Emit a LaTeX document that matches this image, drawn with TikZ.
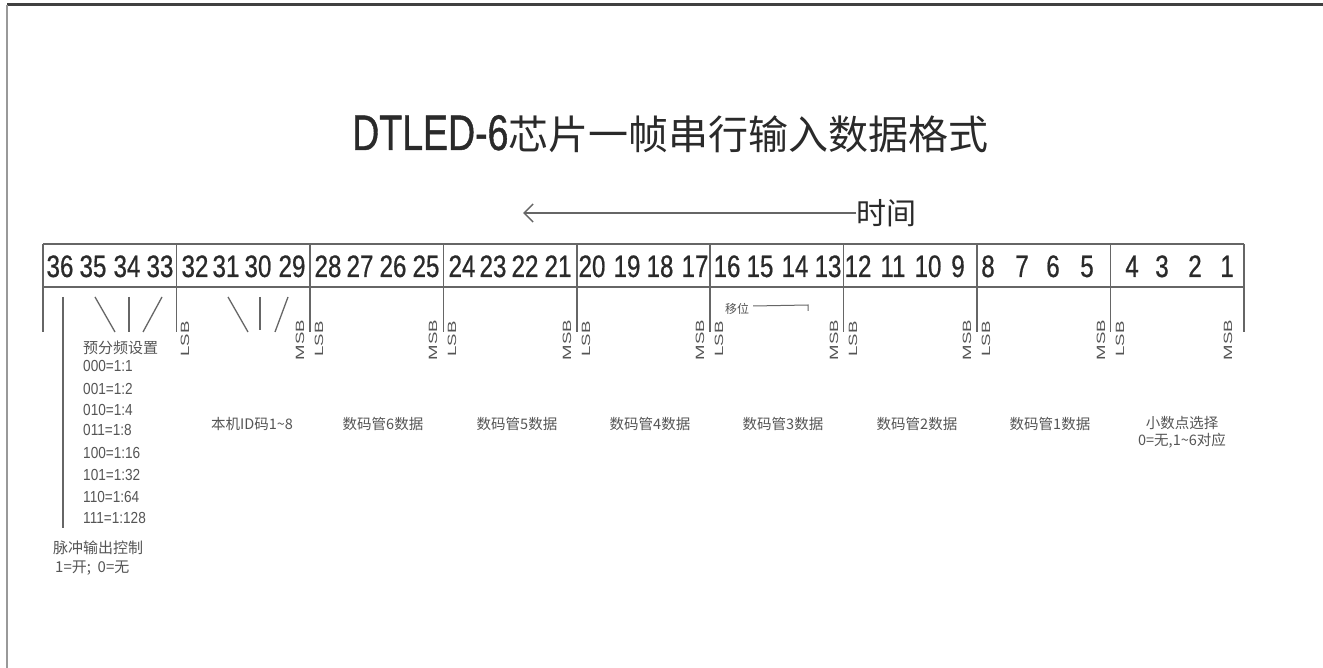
\documentclass[tikz,border=0pt]{standalone}
\usepackage{fontspec}
\setmainfont{Liberation Sans}
\newfontfamily\numfont[FakeStretch=0.78,FakeBold=0.6]{Liberation Sans}
\newfontfamily\titlefont[FakeStretch=0.75,FakeBold=0.8]{Liberation Sans}
\newfontfamily\lsbfont[FakeStretch=1.55]{Liberation Sans}
\newfontfamily\smallfont[FakeStretch=0.85]{Liberation Sans}
\newfontfamily\cjk{Noto Sans CJK SC}
\usetikzlibrary{arrows.meta}
\definecolor{ink}{HTML}{2A2A2A}
\definecolor{lbl}{HTML}{555555}
\definecolor{ln}{HTML}{666666}
\begin{document}
\begin{tikzpicture}[x=1pt,y=-1pt,
  tl/.style={draw=ln,line width=1.6pt},
  thin/.style={draw=ln,line width=1.3pt},
  num/.style={inner sep=0pt,anchor=base,text=ink,font=\numfont\fontsize{31}{31}\selectfont},
  bitlbl/.style={inner sep=0pt,rotate=90,text=lbl,font=\lsbfont\fontsize{12}{12}\selectfont},
  small/.style={inner sep=0pt,anchor=base west,text=lbl,font=\smallfont\fontsize{16}{16}\selectfont},
  smallcjk/.style={inner sep=0pt,text=lbl,font=\cjk\fontsize{15}{15}\selectfont},
  datalbl/.style={inner sep=0pt,text=lbl,font=\cjk\fontsize{14.5}{17}\selectfont,align=center}]
\useasboundingbox (0,0) rectangle (1323,668);
\fill[white] (0,0) rectangle (1323,668);
% frame
\draw[line width=3pt,black!75] (7,5) -- (1323,5);
\draw[line width=1.5pt,black!40] (7,5) -- (7,668);
% title
\node[inner sep=0pt,anchor=base west,text=ink] (title) at (352,150)
  {{\titlefont\fontsize{50}{50}\selectfont DTLED-6}{\cjk\fontsize{40}{40}\selectfont 芯片一帧串行输入数据格式}};
% time arrow
\node[inner sep=0pt,anchor=west,text=ink,font=\cjk\fontsize{30}{30}\selectfont] (time) at (856,213) {时间};
\coordinate (tip) at (523,213);
\draw[line width=1.5pt,draw=ln,-{Straight Barb[length=9pt,width=18pt,line width=1.5pt]}] (time.west) -- (tip);
% table
\draw[tl] (43,244) -- (1244,244);
\draw[tl] (43,287) -- (1244,287);
\foreach \k in {0,...,9} \draw[tl] ({43+133.444*\k},244) -- ({43+133.444*\k},332);
% numbers
\foreach \n/\x in {36/60,35/93,34/127,33/160,
  32/195,31/226,30/258,29/292,
  28/328,27/360,26/393,25/426,
  24/462,23/493,22/525,21/558,
  20/592,19/627,18/660,17/695,
  16/727,15/760,14/795,13/828,
  12/858,11/893,10/928,9/958,
  8/988,7/1022,6/1053,5/1087,
  4/1132,3/1162,2/1195,1/1227}
  \node[num] (n\n) at (\x,277) {\n};
% LSB / MSB
\foreach \x [count=\i] in {185,319,452,586,719,853,986,1120}
  \node[bitlbl] (lsb\i) at (\x,339) {LSB};
\foreach \x [count=\i] in {300,433,567,700,834,967,1101,1228}
  \node[bitlbl] (msb\i) at (\x,340) {MSB};
% prescaler group
\draw[thin] (95,297) -- (115,332);
\draw[thin] (129,297) -- (129,332);
\draw[thin] (162,297) -- (143,332);
\draw[thin] (228,297) -- (248,332);
\draw[thin] (260,297) -- (260,330);
\draw[thin] (288,297) -- (275,332);
\node[smallcjk,anchor=west] (pre) at (83,348) {预分频设置};
\foreach \t/\y [count=\i] in {000=1:1/371,001=1:2/395,010=1:4/415,011=1:8/435,100=1:16/458,101=1:32/480,110=1:64/502,111=1:128/523}
  \node[small] (ps\i) at (83,\y) {\t};
% pulse output
\draw[thin] (63,297) -- (63,528);
\node[smallcjk,anchor=west] (pulse) at (53,548) {脉冲输出控制};
\node[smallcjk,anchor=west] (pulseval) at (55,568) {1=开;\ \ 0=无};
% shift
\node[inner sep=0pt,text=lbl,font=\cjk\fontsize{12}{12}\selectfont] (shift) at (737,309) {移位};
\coordinate (shiftend) at (808,311);
\draw[draw=ln,line width=1pt] (shift.east) ++(4,-3) -- (808,305) -- (shiftend);
% data labels
\node[datalbl] (id) at (252,424) {本机ID码1\textasciitilde 8};
\node[datalbl] (d6) at (383,424) {数码管6数据};
\node[datalbl] (d5) at (517,424) {数码管5数据};
\node[datalbl] (d4) at (650,424) {数码管4数据};
\node[datalbl] (d3) at (783,424) {数码管3数据};
\node[datalbl] (d2) at (917,424) {数码管2数据};
\node[datalbl] (d1) at (1050,424) {数码管1数据};
\node[datalbl] (dp) at (1182,432) {小数点选择\\0=无,1\textasciitilde 6对应};
\end{tikzpicture}
\end{document}
